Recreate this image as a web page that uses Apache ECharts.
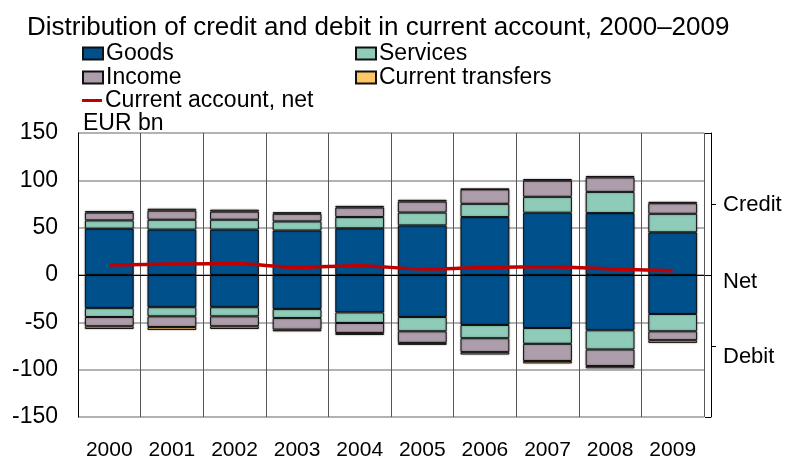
<!DOCTYPE html>
<html>
<head>
<meta charset="utf-8">
<title>Distribution of credit and debit in current account</title>
<script src="https://cdn.jsdelivr.net/npm/echarts@6/dist/echarts.min.js"></script>
<style>
  html, body { margin: 0; padding: 0; background: #fff; }
  #chart { width: 789px; height: 461px; }
</style>
</head>
<body>
<div id="chart"></div>
<script>
// 年份
var years = ['2000', '2001', '2002', '2003', '2004', '2005', '2006', '2007', '2008', '2009'];

// credit (positive side)
var goodsCredit = [49, 48, 48, 47, 49.3, 52.4, 61.2, 65.8, 65.4, 45.1];
var servicesCredit = [8.7, 10.4, 10.4, 9.6, 11.9, 13.6, 14, 16.8, 22.4, 19.6];
var incomeCredit = [8.3, 9.6, 8.6, 8.1, 10.1, 11.6, 15.3, 17.1, 15.3, 11.1];
var transfersCredit = [1.5, 2, 2, 1.7, 1.7, 1.8, 0.5, 1.7, 1.5, 1.5];

// debit (negative side)
var goodsDebit = [-35, -34, -34, -36, -39.5, -44.4, -52.8, -56, -58.4, -41.2];
var servicesDebit = [-9.4, -9.7, -9.7, -9.5, -11.2, -15.1, -14, -16.7, -20.3, -18.3];
var incomeDebit = [-9.8, -11.3, -10.5, -12.2, -10.5, -12.2, -14.7, -18.2, -17.5, -9.4];
var transfersDebit = [-2.8, -3, -2.8, -1.8, -2.1, -2.1, -2.5, -2.5, -2.4, -2.8];

// current account, net
var net = [10.5, 11.5, 12.2, 8, 9.8, 6.3, 8, 8.7, 6.3, 4.5];

// right side labels
var sideTicks = [75, -75];
var sideLabels = { 'Credit': 73.8, 'Net': -7.4, 'Debit': -86.5 };

var font = 'Liberation Sans, Arial, sans-serif';
var colors = {
  goods: '#00508c',
  services: '#8ecbb9',
  income: '#ae9eac',
  transfers: '#fcc865',
  net: '#c00000'
};

function barSeries(name, data, color) {
  return {
    name: name,
    type: 'bar',
    stack: 'ca',
    barCategoryGap: '22%',
    data: data,
    itemStyle: {
      color: color,
      borderColor: '#111',
      borderWidth: 1,
      shadowBlur: 2,
      shadowColor: 'rgba(0,0,0,0.35)'
    },
    emphasis: { disabled: true }
  };
}

function legendItem(name, left, top, isLine) {
  return {
    data: [name],
    left: left,
    top: top,
    icon: 'rect',
    itemWidth: 20,
    itemHeight: isLine ? 3 : 12,
    itemGap: 0,
    selectedMode: false,
    textStyle: { fontFamily: font, fontSize: 23, color: '#000', padding: [0, 0, 0, -2] }
  };
}

var labelNames = Object.keys(sideLabels);

var option = {
  animation: false,
  title: {
    text: 'Distribution of credit and debit in current account, 2000\u20132009',
    left: 22,
    top: 10,
    textStyle: { fontFamily: font, fontSize: 26, fontWeight: 'normal', color: '#000' }
  },
  legend: [
    legendItem('Goods', 77, 37),
    legendItem('Services', 350, 37),
    legendItem('Income', 77, 61),
    legendItem('Current transfers', 350, 61),
    legendItem('Current account, net', 77, 84, true)
  ],
  grid: { left: 78, right: 85, top: 133, bottom: 44 },
  xAxis: {
    type: 'category',
    data: years,
    boundaryGap: true,
    axisLine: { show: false },
    axisTick: { show: false },
    axisLabel: { fontFamily: font, fontSize: 21, color: '#000', margin: 23 },
    splitLine: { show: true, lineStyle: { color: '#555', width: 1 } }
  },
  yAxis: [
    {
      type: 'value',
      min: -150,
      max: 150,
      interval: 50,
      name: 'EUR bn',
      nameLocation: 'end',
      nameGap: 9,
      nameTextStyle: { fontFamily: font, fontSize: 23, color: '#000', align: 'left', verticalAlign: 'middle', padding: [0, 0, 0, 5] },
      axisLine: { show: true, lineStyle: { color: '#000', width: 1 } },
      axisTick: { show: false },
      axisLabel: { fontFamily: font, fontSize: 23, color: '#000', margin: 20 },
      splitLine: { lineStyle: { color: '#999', width: 1.5 } }
    },
    {
      // bracket with Credit / Net / Debit
      type: 'value',
      position: 'right',
      offset: 7,
      min: -150,
      max: 150,
      axisLine: { show: true, lineStyle: { color: '#000', width: 1 } },
      axisTick: { show: true, customValues: sideTicks, length: 5, lineStyle: { color: '#000' } },
      axisLabel: {
        show: true,
        customValues: labelNames.map(function (k) { return sideLabels[k]; }),
        margin: 12,
        fontFamily: font,
        fontSize: 22,
        color: '#000',
        formatter: function (v) {
          for (var i = 0; i < labelNames.length; i++) {
            if (Math.abs(sideLabels[labelNames[i]] - v) < 0.01) return labelNames[i];
          }
          return '';
        }
      },
      splitLine: { show: false }
    },
    {
      // inward ends of the bracket
      type: 'value',
      position: 'right',
      offset: 7,
      min: -150,
      max: 150,
      axisLine: { show: false },
      axisTick: { show: true, inside: true, customValues: [-150, 0, 150], length: 6, lineStyle: { color: '#000' } },
      axisLabel: { show: false },
      splitLine: { show: false }
    }
  ],
  series: [
    barSeries('Goods', goodsCredit, colors.goods),
    barSeries('Goods', goodsDebit, colors.goods),
    barSeries('Services', servicesCredit, colors.services),
    barSeries('Services', servicesDebit, colors.services),
    barSeries('Income', incomeCredit, colors.income),
    barSeries('Income', incomeDebit, colors.income),
    barSeries('Current transfers', transfersCredit, colors.transfers),
    barSeries('Current transfers', transfersDebit, colors.transfers),
    {
      name: 'Current account, net',
      type: 'line',
      data: net,
      smooth: 0.3,
      symbol: 'none',
      z: 5,
      lineStyle: { color: colors.net, width: 3.5 },
      itemStyle: { color: colors.net },
      markLine: {
        silent: true,
        symbol: 'none',
        label: { show: false },
        lineStyle: { color: '#000', width: 1.2, type: 'solid' },
        data: [{ yAxis: 0 }]
      }
    }
  ]
};

var myChart = echarts.init(document.getElementById('chart'));
myChart.setOption(option);
</script>
</body>
</html>
